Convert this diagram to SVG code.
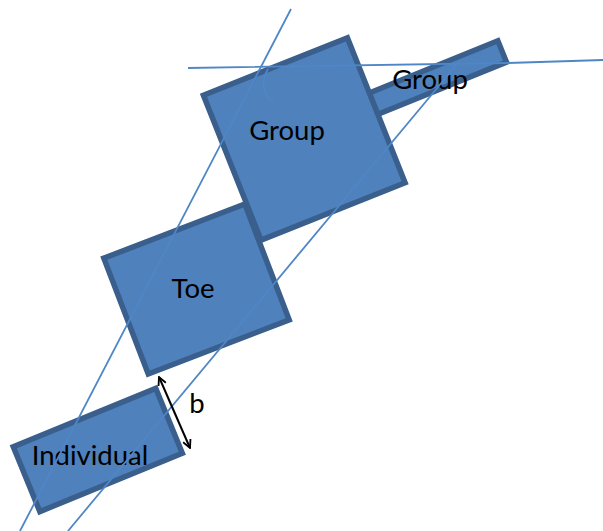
<svg xmlns="http://www.w3.org/2000/svg" width="603" height="531" viewBox="0 0 603 531">
<style>
.shape{fill:#4f81bd;stroke:#3a5f8c;stroke-width:5.5}
.lbl{font-family:Lato,"Liberation Sans",sans-serif;font-size:27.5px;fill:#000;text-anchor:middle}
.ln{fill:none;stroke:#4f86c6;stroke-width:1.8}
</style>
<defs>
<marker id="ah" viewBox="0 0 10 10" refX="9" refY="5" markerWidth="5" markerHeight="5" orient="auto-start-reverse" markerUnits="strokeWidth">
<path d="M1,1 L9,5 L1,9" fill="none" stroke="#000" stroke-width="1.8"/>
</marker>
</defs>
<rect width="603" height="531" fill="#fff"/>
<g id="node-group-bar">
<rect class="shape" x="-195" y="-11.5" width="192.5" height="23" transform="translate(504.5,50.5) rotate(-22.1)"/>
<text class="lbl" x="430" y="89">Group</text>
</g>
<g id="node-individual">
<rect class="shape" x="-77" y="-35" width="154" height="70" transform="translate(97.8,450) rotate(-22.3)"/>
<text class="lbl" x="90" y="465">Individual</text>
</g>
<g id="node-toe">
<rect class="shape" x="-75.5" y="-62" width="151" height="124" transform="translate(196.5,289) rotate(-21)"/>
<text class="lbl" x="193" y="298">Toe</text>
</g>
<g id="node-group">
<rect class="shape" x="-77.5" y="-78" width="155" height="156" transform="translate(304.25,139) rotate(-21.7)"/>
<text class="lbl" x="287" y="140">Group</text>
</g>
<g id="connectors">
<line class="ln" x1="291" y1="9" x2="20" y2="531"/>
<line class="ln" x1="68" y1="531" x2="458" y2="63"/>
<polyline class="ln" points="188,68 508,63 603,60"/>
<path class="ln" d="M268,69 Q257,88 273,103" stroke-width="1.2"/>
<line x1="159" y1="377" x2="190" y2="448" stroke="#000" stroke-width="2" marker-start="url(#ah)" marker-end="url(#ah)"/>
<text class="lbl" x="197" y="413">b</text>
</g>
</svg>
